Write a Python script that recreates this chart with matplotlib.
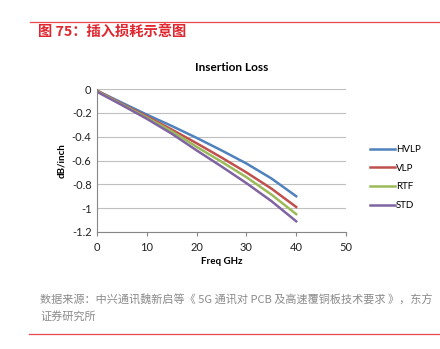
import matplotlib.pyplot as plt
from matplotlib.lines import Line2D

plt.rcParams['font.family'] = ['Noto Sans CJK SC', 'DejaVu Sans']

freq = [0.3, 5, 10, 15, 20, 25, 30, 35, 40]
hvlp = [-0.02, -0.115, -0.215, -0.31, -0.41, -0.515, -0.625, -0.75, -0.90]
vlp = [-0.02, -0.125, -0.23, -0.34, -0.455, -0.575, -0.70, -0.835, -0.99]
rtf = [-0.025, -0.13, -0.24, -0.355, -0.485, -0.61, -0.74, -0.885, -1.05]
std = [-0.03, -0.135, -0.25, -0.375, -0.515, -0.65, -0.79, -0.94, -1.11]

names = ['HVLP', 'VLP', 'RTF', 'STD']
colors = ['#4F81BD', '#C0504D', '#9BBB59', '#8064A2']
chart_font = ['Lato', 'DejaVu Sans']

fig = plt.figure(figsize=(4.4, 3.49), dpi=100)
W, H = 440, 349

# header / footer decoration
fig.add_artist(Line2D([30 / W, 1], [1 - 22 / H] * 2, color='#E8474B', lw=0.9))
fig.add_artist(Line2D([29 / W, 1], [1 - 334 / H] * 2, color='#E8474B', lw=0.9))
fig.text(38 / W, 1 - 33 / H, '图 75：插入损耗示意图', color='#E0262E',
         fontsize=10.3, fontweight='bold', va='center', ha='left')
fig.text(40 / W, 1 - 300 / H, '数据来源：中兴通讯魏新启等《 5G 通讯对 PCB 及高速覆铜板技术要求 》，东方',
         color='#8A8A8A', fontsize=8, va='center', ha='left')
fig.text(40 / W, 1 - 316 / H, '证券研究所', color='#8A8A8A', fontsize=8,
         va='center', ha='left')

ax = fig.add_axes([97 / W, 1 - 232 / H, (346 - 97) / W, (232 - 89) / H])
for ys, name, c in zip([hvlp, vlp, rtf, std], names, colors):
    ax.plot(freq, ys, color=c, lw=1.8, label=name)

ax.set_xlim(0, 50)
ax.set_ylim(-1.2, 0)
ax.set_xticks(range(0, 51, 10))
ax.set_yticks([0, -0.2, -0.4, -0.6, -0.8, -1, -1.2])
ax.set_yticklabels(['0', '-0.2', '-0.4', '-0.6', '-0.8', '-1', '-1.2'])
ax.yaxis.grid(True, color='#BFBFBF', lw=0.8)
ax.set_axisbelow(True)
for s in ['top', 'right']:
    ax.spines[s].set_visible(False)
ax.spines['left'].set_color('#868686')
ax.spines['bottom'].set_color('#868686')
ax.tick_params(axis='both', labelsize=8, length=0, pad=4, colors='#222222')
ax.tick_params(axis='x', length=3, color='#868686', direction='out')
for lab in ax.get_xticklabels() + ax.get_yticklabels():
    lab.set_family(chart_font)

ax.set_title('Insertion Loss', fontsize=8.5, fontweight='bold', pad=13, x=0.54,
             family=chart_font)
ax.set_xlabel('Freq GHz', fontsize=7, fontweight='bold', labelpad=3,
              family=chart_font)
ax.set_ylabel('dB/inch', fontsize=7, fontweight='bold', labelpad=4,
              family=chart_font)

ax.legend(loc='upper left', bbox_to_anchor=(1.06, 0.67), frameon=False,
          prop={'family': chart_font, 'size': 7}, handlelength=2.6,
          handletextpad=0.1, labelspacing=1.0)

fig.savefig('out.png', dpi=100)
